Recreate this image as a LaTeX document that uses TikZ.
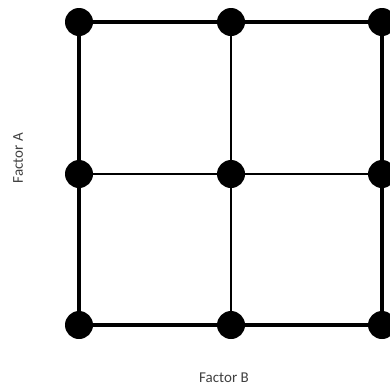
\documentclass[tikz,border=0pt]{standalone}
\usepackage{fontspec}
\setmainfont{Carlito}
\usetikzlibrary{backgrounds}
\begin{document}
\begin{tikzpicture}[x=1pt,y=-1pt,
  dot/.style={circle,fill=black,inner sep=0pt,minimum size=28pt},
  outer/.style={line width=3.5pt},
  inner/.style={line width=2pt},
  axislabel/.style={text=black!75,font=\fontsize{15}{15}\selectfont,inner sep=0pt}]
\useasboundingbox (0,0) rectangle (390,389);
% grid points: columns l,m,r ; rows t,c,b
\node[dot] (lt) at (79,22) {};
\node[dot] (mt) at (231,22) {};
\node[dot] (rt) at (382,22) {};
\node[dot] (lc) at (79,174) {};
\node[dot] (mc) at (231,174) {};
\node[dot] (rc) at (382,174) {};
\node[dot] (lb) at (79,325) {};
\node[dot] (mb) at (231,325) {};
\node[dot] (rb) at (382,325) {};
\begin{scope}[on background layer]
  \draw[outer] (lt.center) -- (mt.center) -- (rt.center);
  \draw[outer] (lb.center) -- (mb.center) -- (rb.center);
  \draw[outer] (lt.center) -- (lc.center) -- (lb.center);
  \draw[outer] (rt.center) -- (rc.center) -- (rb.center);
  \draw[inner] (lc.center) -- (mc.center) -- (rc.center);
  \draw[inner] (mt.center) -- (mc.center) -- (mb.center);
\end{scope}
\node[axislabel,rotate=90] (fa) at (18,158) {Factor A};
\node[axislabel] (fb) at (224,378) {Factor B};
\end{tikzpicture}
\end{document}
